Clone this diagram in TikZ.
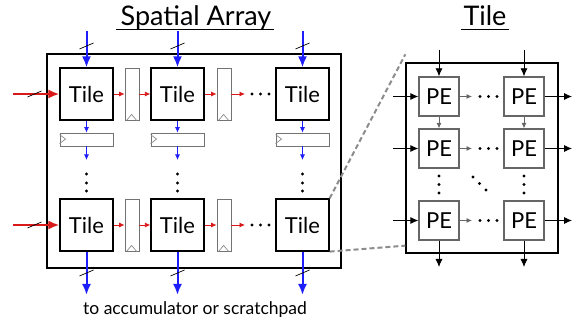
\documentclass[tikz,border=0pt]{standalone}
\usepackage{fontspec}
\setmainfont{Lato}
\usetikzlibrary{positioning, arrows.meta}
\definecolor{busBlue}{RGB}{30,30,250}
\definecolor{busRed}{RGB}{215,25,25}
\tikzstyle{tileBox} = [
    rectangle,
    draw,
    line width=1.2pt,
    minimum width=53pt,
    minimum height=52pt,
    inner sep=0pt,
    font=\fontsize{22}{22}\selectfont
    ]
\tikzstyle{peBox} = [
    rectangle,
    draw=black!60,
    line width=1.3pt,
    fill=white,
    minimum width=40pt,
    minimum height=39pt,
    inner sep=0pt,
    font=\fontsize{22}{22}\selectfont
    ]
\tikzstyle{vRegister} = [
    rectangle,
    draw=black!55,
    line width=0.8pt,
    minimum width=14pt,
    minimum height=52pt,
    inner sep=0pt
    ]
\tikzstyle{hRegister} = [
    rectangle,
    draw=black!55,
    line width=0.8pt,
    minimum width=53pt,
    minimum height=13pt,
    inner sep=0pt
    ]
\tikzstyle{titleText} = [
    inner sep=0pt,
    font=\fontsize{27}{27}\selectfont
    ]
\tikzstyle{busArrow} = [line width=2pt, -{Latex[length=11pt,width=9pt]}]
\tikzstyle{thinArrow} = [line width=0.8pt, -{Latex[length=5.5pt,width=5pt]}]
\tikzstyle{peArrow} = [line width=0.8pt, -{Latex[length=8pt,width=7pt]}]
\tikzstyle{zoomLine} = [draw=black!45, line width=2pt, dash pattern=on 5pt off 3pt]
\newcommand{\busMark}[1]{\draw[line width=0.7pt] (#1) ++(-7,3) -- ++(14,-6);}

\begin{document}
\begin{tikzpicture}[x=1pt, y=-1pt]
      \useasboundingbox (0,0) rectangle (574,320);
      % titles
      \node[titleText, anchor=base] at (196,26) (arrayTitle) {Spatial Array};
      \draw[line width=0.8pt] ([xshift=-4pt, yshift=-3pt]arrayTitle.base west) -- ([xshift=2pt, yshift=-3pt]arrayTitle.base east);
      \node[titleText, anchor=base] at (485,26) (tileTitle) {Tile};
      \draw[line width=0.8pt] ([xshift=-2pt, yshift=-3pt]tileTitle.base west) -- ([xshift=2pt, yshift=-3pt]tileTitle.base east);
      % spatial array
      \node[draw, line width=1.5pt, minimum width=294pt, minimum height=214pt] at (194,161) (array) {};
      \node[tileBox] at (86.5,94) (t11) {Tile};
      \node[tileBox] at (177.5,94) (t12) {Tile};
      \node[tileBox] at (302.5,94) (t13) {Tile};
      \node[tileBox] at (86.5,225) (t21) {Tile};
      \node[tileBox] at (177.5,225) (t22) {Tile};
      \node[tileBox] at (302.5,225) (t23) {Tile};
      \node[vRegister] at (132,94) (r11) {};
      \node[vRegister] at (224,94) (r12) {};
      \node[vRegister] at (132,225) (r21) {};
      \node[vRegister] at (224,225) (r22) {};
      \node[hRegister] at (86.5,139.5) (h1) {};
      \node[hRegister] at (177.5,139.5) (h2) {};
      \node[hRegister] at (302.5,139.5) (h3) {};
      \foreach \r in {r11, r12, r21, r22}
        \draw[black!45, line width=0.7pt] (\r.south west) ++(2,0) -- ++(5,-6) -- ++(5,6);
      \foreach \h in {h1, h2, h3}
        \draw[black!45, line width=0.7pt] (\h.north west) ++(0,2) -- ++(6,4.5) -- ++(-6,4.5);
      % weights from the top, results out of the bottom
      \foreach \c/\x in {1/86.5, 2/177.5, 3/302.5} {
        \coordinate (in\c) at (\x,31);
        \coordinate (down\c) at (\x,160);
        \coordinate (out\c) at (\x,295);
        \draw[busArrow, busBlue] (in\c) -- (t1\c.north);
        \draw[thinArrow, busBlue] (t1\c.south) -- (h\c.north);
        \draw[thinArrow, busBlue] (h\c.south) -- (down\c);
        \draw[busArrow, busBlue] (t2\c.south) -- (out\c);
        \busMark{\x,46}
        \busMark{\x,273}
        \foreach \y in {174,183,191}
          \fill (\x,\y) circle (1.7pt);
      }
      % inputs from the left
      \foreach \r/\y in {1/94, 2/225} {
        \coordinate (left\r) at (13,\y);
        \coordinate (end\r) at (245,\y);
        \draw[busArrow, busRed] (left\r) -- (t\r1.west);
        \busMark{34.5,\y}
        \draw[thinArrow, busRed] (t\r1.east) -- (r\r1.west);
        \draw[thinArrow, busRed] (r\r1.east) -- (t\r2.west);
        \draw[thinArrow, busRed] (t\r2.east) -- (r\r2.west);
        \draw[thinArrow, busRed] (r\r2.east) -- (end\r);
        \foreach \x in {252,260.5,269}
          \fill (\x,\y) circle (1.7pt);
      }
      \node[font=\fontsize{17.5}{17.5}\selectfont, inner sep=0pt, anchor=base] at (195,315) (outLabel) {to accumulator or scratchpad};
      % tile detail
      \node[draw, line width=1.3pt, minimum width=152pt, minimum height=190pt] at (482,158) (tileDetail) {};
      \draw[zoomLine] (t23.north east) -- ([yshift=8pt]tileDetail.north west);
      \draw[zoomLine] (t23.south east) -- ([yshift=8pt]tileDetail.south west);
      \node[peBox] at (439,96.5) (p11) {PE};
      \node[peBox] at (524,96.5) (p12) {PE};
      \node[peBox] at (439,148.5) (p21) {PE};
      \node[peBox] at (524,148.5) (p22) {PE};
      \node[peBox] at (439,220.5) (p31) {PE};
      \node[peBox] at (524,220.5) (p32) {PE};
      \coordinate (pin1) at (439,50);
      \coordinate (pin2) at (524,50);
      \coordinate (pout1) at (439,267);
      \coordinate (pout2) at (524,267);
      \draw[peArrow] (pin1) -- (p11.north);
      \draw[peArrow] (pin2) -- (p12.north);
      \draw[peArrow] (p31.south) -- (pout1);
      \draw[peArrow] (p32.south) -- (pout2);
      \draw[thinArrow, black!60] (p11.south) -- (p21.north);
      \draw[thinArrow, black!60] (p12.south) -- (p22.north);
      \foreach \r/\y in {1/96.5, 2/148.5, 3/220.5} {
        \coordinate (pleft\r) at (393,\y);
        \coordinate (pright\r) at (572,\y);
        \coordinate (pdots\r) at (472,\y);
        \draw[peArrow] (pleft\r) -- (p\r1.west);
        \draw[peArrow] (p\r2.east) -- (pright\r);
        \draw[thinArrow, black!60] (p\r1.east) -- (pdots\r);
        \foreach \x in {480,488.5,497}
          \fill (\x,\y) circle (1.7pt);
      }
      \foreach \y in {176,184.5,193} {
        \fill (439,\y) circle (1.7pt);
        \fill (524,\y) circle (1.7pt);
      }
      \foreach \x/\y in {473/177, 479.5/183.5, 486/190}
        \fill (\x,\y) circle (1.7pt);
    \end{tikzpicture}
\end{document}
